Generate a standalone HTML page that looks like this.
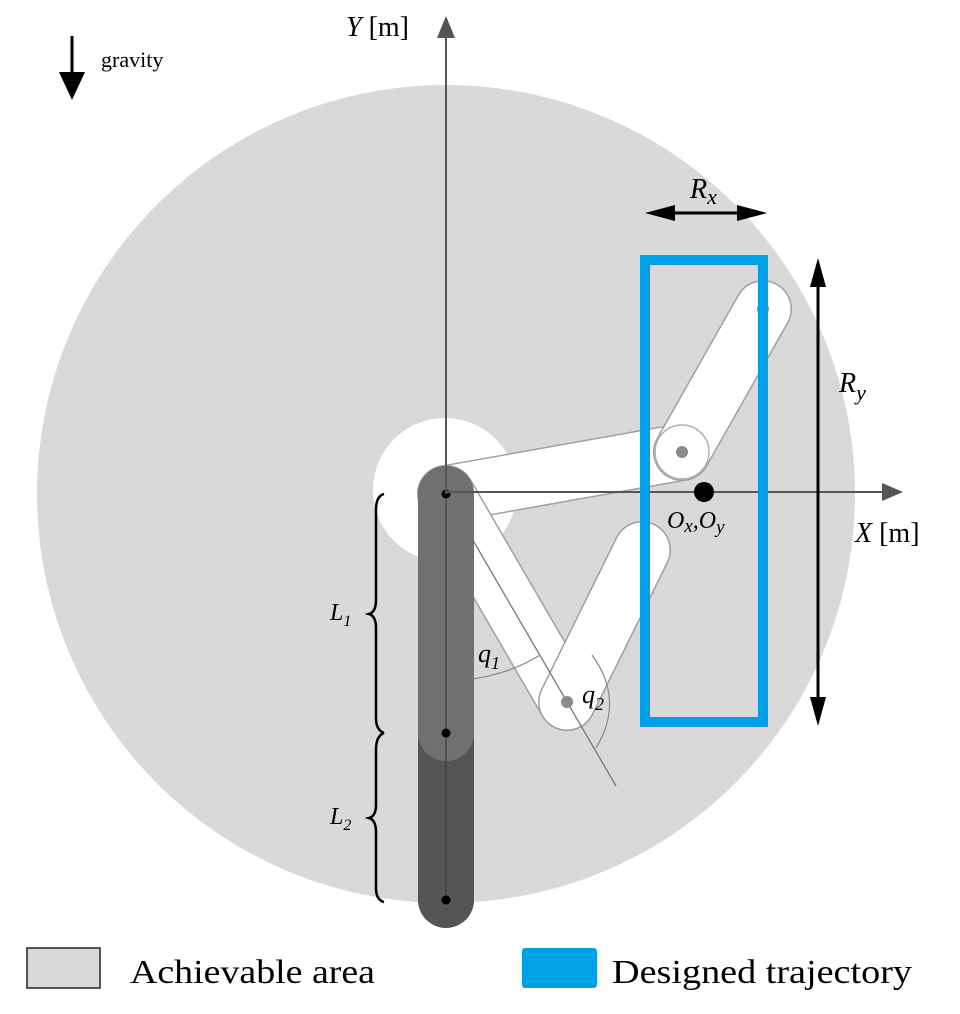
<!DOCTYPE html>
<html><head><meta charset="utf-8"><style>
html,body{margin:0;padding:0;background:#fff;}
svg{display:block;font-family:"Liberation Serif",serif;}
</style></head><body>
<svg width="960" height="1014" viewBox="0 0 960 1014">
<defs>
<marker id="ag" markerWidth="10" markerHeight="10" refX="8" refY="5" orient="auto" markerUnits="userSpaceOnUse"><path d="M0,0 L0,0"/></marker>
</defs>
<circle cx="446" cy="494" r="409" fill="#d9d9d9"/>
<circle cx="445" cy="490" r="72" fill="#fff"/>

<g>
<line x1="446" y1="494" x2="682" y2="452" stroke="#a0a0a0" stroke-width="58" stroke-linecap="round"/>
<line x1="446" y1="494" x2="682" y2="452" stroke="#fff" stroke-width="55" stroke-linecap="round"/>
<line x1="682" y1="452" x2="763" y2="309" stroke="#a0a0a0" stroke-width="58" stroke-linecap="round"/>
<line x1="682" y1="452" x2="763" y2="309" stroke="#fff" stroke-width="55" stroke-linecap="round"/>
<circle cx="682" cy="452" r="27" fill="none" stroke="#b0b0b0" stroke-width="1.5"/>
<circle cx="682" cy="452" r="6" fill="#8a8a8a"/>
<circle cx="763" cy="309" r="6" fill="#8a8a8a"/>
</g>
<g>
<line x1="446" y1="494" x2="567" y2="702" stroke="#a0a0a0" stroke-width="58" stroke-linecap="round"/>
<line x1="446" y1="494" x2="567" y2="702" stroke="#fff" stroke-width="55" stroke-linecap="round"/>
<line x1="567" y1="702" x2="642" y2="550" stroke="#a0a0a0" stroke-width="58" stroke-linecap="round"/>
<line x1="567" y1="702" x2="642" y2="550" stroke="#fff" stroke-width="55" stroke-linecap="round"/>
<line x1="446" y1="494" x2="616" y2="786" stroke="#777" stroke-width="1.3"/>
<circle cx="567" cy="702" r="6" fill="#8a8a8a"/>
<path d="M446,681 Q500,680 540,655" fill="none" stroke="#888" stroke-width="1.2"/>
<path d="M592,655 Q625,700 596,748" fill="none" stroke="#888" stroke-width="1.2"/>
</g>

<g>
<line x1="446" y1="494" x2="446" y2="900" stroke="#555" stroke-width="56" stroke-linecap="round"/>
<line x1="446" y1="494" x2="446" y2="733" stroke="#707070" stroke-width="56" stroke-linecap="round"/>
<line x1="446" y1="494" x2="446" y2="900" stroke="#333" stroke-width="1"/>
<circle cx="446" cy="494" r="4.5" fill="#000"/>
<circle cx="446" cy="733" r="4.5" fill="#000"/>
<circle cx="446" cy="900" r="4.5" fill="#000"/>
</g>

<g>
<line x1="446" y1="494" x2="446" y2="36" stroke="#555" stroke-width="2"/>
<path d="M437,38 L446,16 L455,38 Z" fill="#555"/>
<line x1="446" y1="492" x2="884" y2="492" stroke="#555" stroke-width="2"/>
<path d="M882,483 L903,492 L882,501 Z" fill="#555"/>
</g>
<text x="346" y="36" font-size="28"><tspan font-style="italic">Y</tspan> [m]</text>
<text x="855" y="542" font-size="28"><tspan font-style="italic">X</tspan> [m]</text>

<g>
<line x1="72" y1="36" x2="72" y2="76" stroke="#000" stroke-width="3"/>
<path d="M59,72 L72,100 L85,72 Z" fill="#000"/>
<text x="101" y="67" font-size="22">gravity</text>
</g>

<rect x="645" y="260" width="118" height="462" fill="none" stroke="#00a0e4" stroke-width="10"/>

<g>
<line x1="660" y1="213" x2="752" y2="213" stroke="#000" stroke-width="3"/>
<path d="M645,213 L675,205 L675,221 Z" fill="#000"/>
<path d="M767,213 L737,205 L737,221 Z" fill="#000"/>
<text x="690" y="198" font-size="28" font-style="italic">R<tspan font-size="22" dy="6">x</tspan></text>
</g>
<g>
<line x1="818" y1="275" x2="818" y2="710" stroke="#000" stroke-width="3"/>
<path d="M818,258 L810,287 L826,287 Z" fill="#000"/>
<path d="M818,726 L810,697 L826,697 Z" fill="#000"/>
<text x="839" y="392" font-size="28" font-style="italic">R<tspan font-size="22" dy="8">y</tspan></text>
</g>

<circle cx="704" cy="492" r="10" fill="#000"/>
<text x="667" y="528" font-size="24" font-style="italic">O<tspan font-size="19" dy="4">x</tspan><tspan dy="-4">,O</tspan><tspan font-size="19" dy="5">y</tspan></text>

<text x="478" y="662" font-size="26" font-style="italic">q<tspan font-size="18" dy="7">1</tspan></text>
<text x="582" y="703" font-size="26" font-style="italic">q<tspan font-size="18" dy="7">2</tspan></text>

<g fill="none" stroke="#000" stroke-width="2.5">
<path d="M384,494 Q376,496 376,510 L376,600 Q376,612 369,614 Q376,616 376,628 L376,718 Q376,730 384,733"/>
<path d="M384,733 Q376,736 376,750 L376,805 Q376,816 369,818 Q376,820 376,832 L376,888 Q376,900 384,902"/>
</g>
<text x="330" y="620" font-size="24" font-style="italic">L<tspan font-size="16" dy="6">1</tspan></text>
<text x="330" y="824" font-size="24" font-style="italic">L<tspan font-size="16" dy="6">2</tspan></text>

<g>
<rect x="27" y="948" width="73" height="40" fill="#d9d9d9" stroke="#222" stroke-width="1.5"/>
<text x="130" y="983" font-size="34" textLength="245" lengthAdjust="spacingAndGlyphs">Achievable area</text>
<rect x="522" y="948" width="75" height="40" rx="3" fill="#00a0e4"/>
<text x="612" y="983" font-size="34" textLength="300" lengthAdjust="spacingAndGlyphs">Designed trajectory</text>
</g>
</svg>
</body></html>
